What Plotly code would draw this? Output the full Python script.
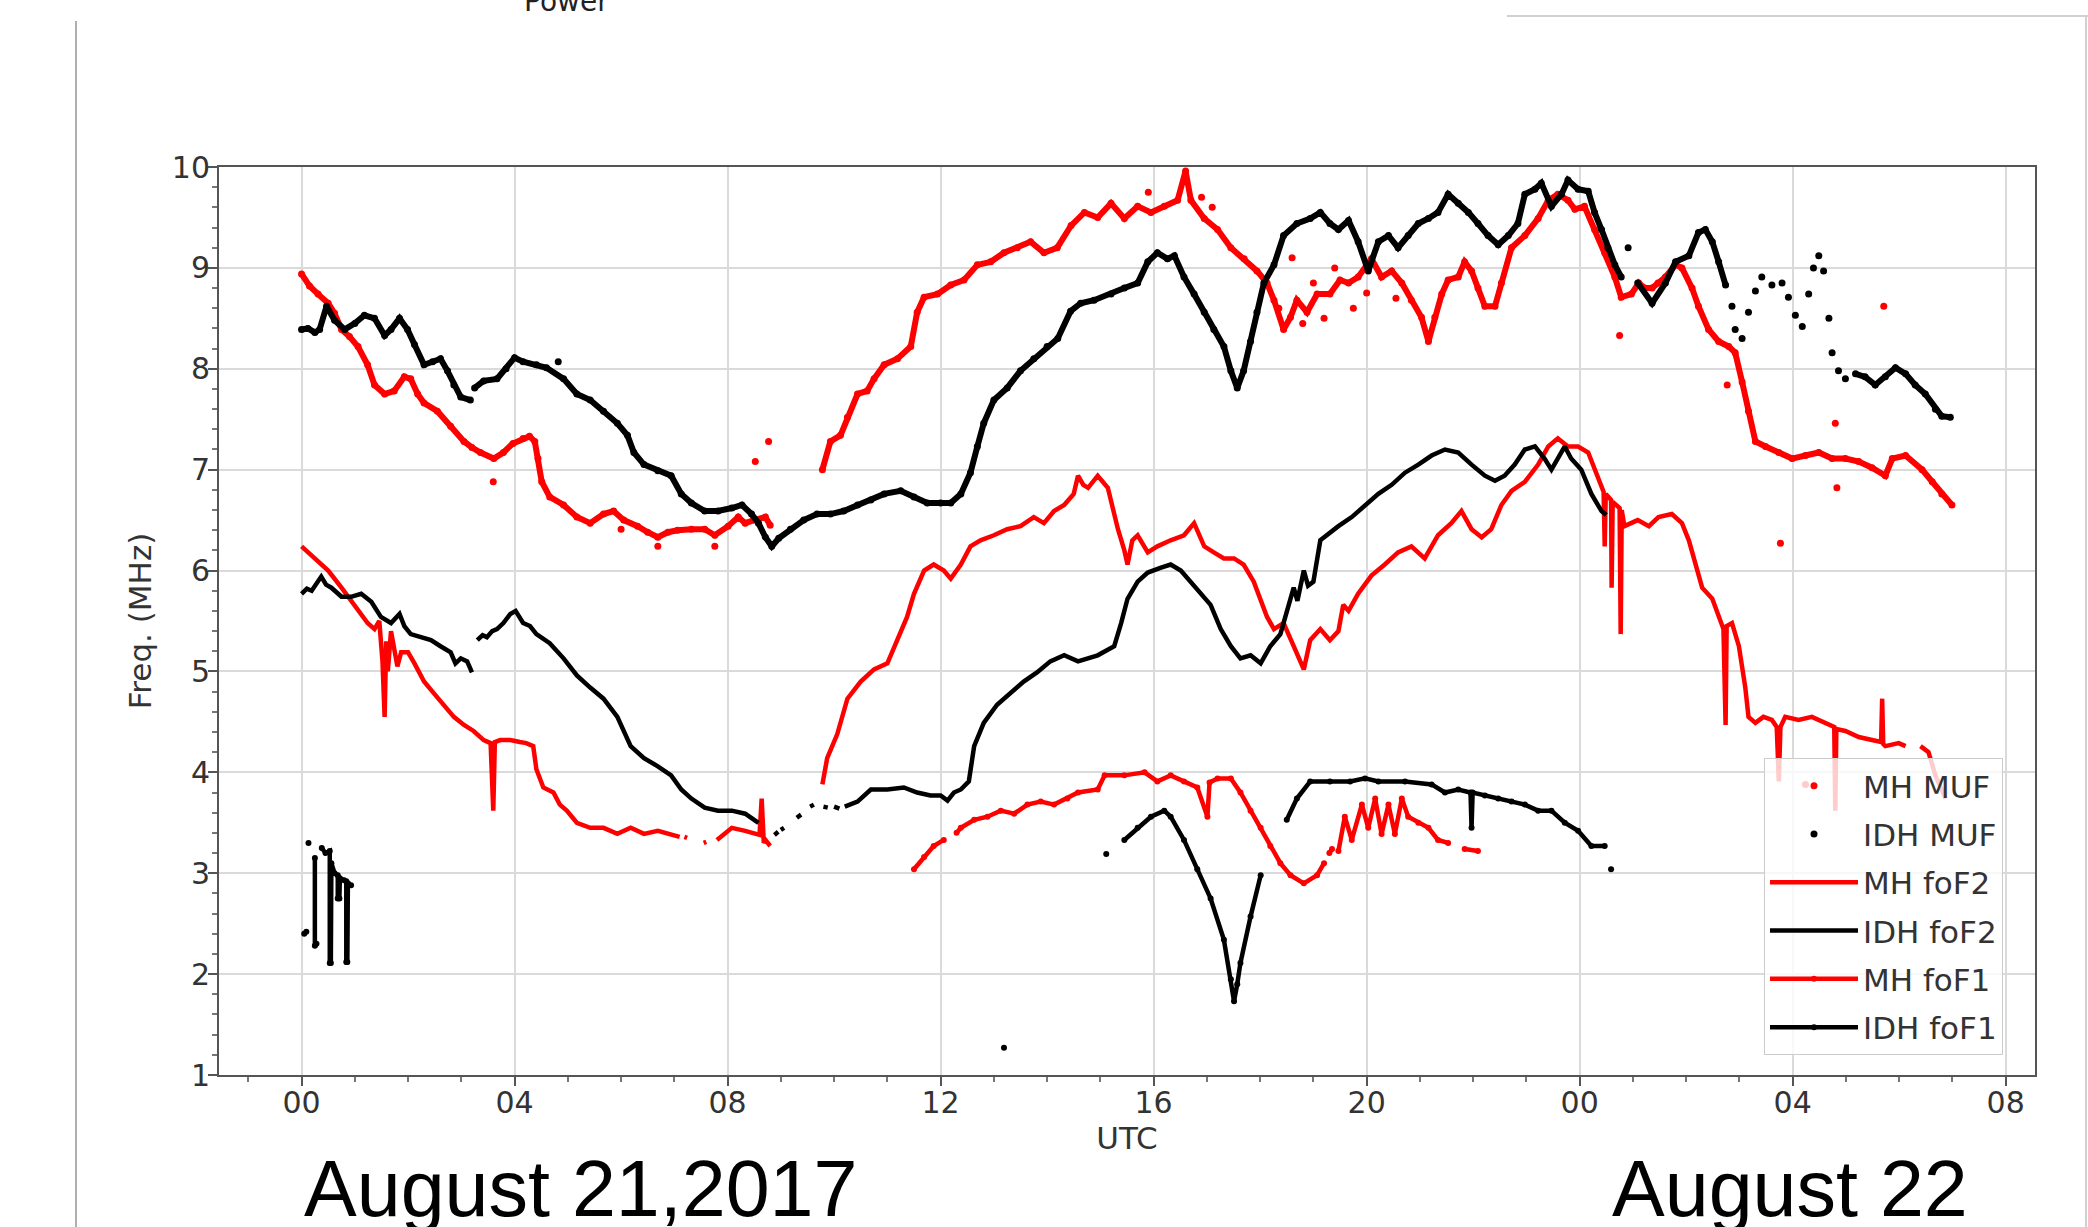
import plotly.graph_objects as go

# ---------------------------------------------------------------------------
# Ionosonde readings, 21-22 August 2017 (hours since 00 UTC on the 21st)
# None breaks a trace where the sounder has no data.
# ---------------------------------------------------------------------------

# MH MUF (dense run, drawn as a dotted band)
mh_muf_hours = [0.0, 0.15, 0.31, 0.5, 0.62, 0.75, 0.9, 1.06, 1.24, 1.37, 1.56, 1.74, 1.93, 2.05, 2.18, 2.3, 2.55,
                2.8, 3.05, 3.2, 3.36, 3.61, 3.79, 3.97, 4.16, 4.28, 4.38, 4.44, 4.51, 4.66, 4.92, 5.17, 5.42, 5.67,
                5.86, 6.05, 6.31, 6.5, 6.69, 6.88, 7.06, 7.32, 7.57, 7.76, 8.01, 8.2, 8.33, 8.5, 8.71, 8.8, None,
                9.78, 9.93, 10.12, 10.25, 10.44, 10.62, 10.75, 10.94, 11.19, 11.44, 11.56, 11.69, 11.94, 12.19,
                12.44, 12.69, 12.94, 13.19, 13.44, 13.69, 13.94, 14.19, 14.45, 14.7, 14.95, 15.2, 15.45, 15.7,
                15.95, 16.2, 16.45, 16.6, 16.7, 16.95, 17.2, 17.45, 17.7, 17.94, 18.13, 18.26, 18.44, 18.57,
                18.69, 18.88, 19.07, 19.31, 19.5, 19.66, 19.84, 20.09, 20.28, 20.47, 20.66, 20.84, 21.03, 21.16,
                21.28, 21.41, 21.53, 21.72, 21.84, 21.97, 22.09, 22.22, 22.41, 22.53, 22.72, 22.97, 23.22, 23.41,
                23.59, 23.78, 23.91, 24.09, 24.28, 24.47, 24.66, 24.78, 24.97, 25.11, 25.22, 25.36, 25.47, 25.61,
                25.8, 25.92, 26.11, 26.23, 26.42, 26.61, 26.8, 26.92, 27.05, 27.17, 27.3, 27.49, 27.74, 27.99,
                28.24, 28.49, 28.74, 28.99, 29.24, 29.49, 29.74, 29.87, 30.12, 30.43, 30.62, 30.8, 30.99]
mh_muf_mhz = [8.94, 8.82, 8.74, 8.65, 8.55, 8.39, 8.32, 8.22, 8.04, 7.84, 7.75, 7.78, 7.92, 7.9, 7.75, 7.66, 7.58,
              7.43, 7.28, 7.22, 7.17, 7.11, 7.17, 7.26, 7.31, 7.33, 7.28, 7.11, 6.88, 6.73, 6.65, 6.53, 6.47, 6.56,
              6.59, 6.5, 6.44, 6.38, 6.33, 6.38, 6.4, 6.41, 6.41, 6.35, 6.44, 6.53, 6.47, 6.5, 6.53, 6.45, None,
              7.0, 7.28, 7.34, 7.52, 7.75, 7.78, 7.9, 8.04, 8.1, 8.22, 8.56, 8.71, 8.74, 8.83,
              8.88, 9.03, 9.06, 9.15, 9.2, 9.26, 9.15, 9.2, 9.42, 9.55, 9.5, 9.64, 9.49, 9.61,
              9.55, 9.61, 9.67, 9.96, 9.67, 9.49, 9.38, 9.2, 9.09, 8.97, 8.85, 8.68, 8.39, 8.51,
              8.68, 8.56, 8.74, 8.74, 8.88, 8.85, 8.91, 9.09, 8.91, 8.97, 8.85, 8.68, 8.51, 8.27,
              8.51, 8.74, 8.88, 8.91, 9.06, 8.97, 8.8, 8.62, 8.62, 8.85, 9.2, 9.32, 9.49, 9.67,
              9.73, 9.67, 9.58, 9.61, 9.38, 9.15, 8.91, 8.71, 8.74, 8.85, 8.8, 8.8, 8.85, 8.91,
              9.03, 9.0, 8.8, 8.62, 8.39, 8.27, 8.22, 8.16, 7.87, 7.58, 7.28, 7.23, 7.17, 7.11,
              7.14, 7.17, 7.11, 7.11, 7.08, 7.02, 6.94, 7.11, 7.14, 7.0, 6.88, 6.76, 6.65]

# MH MUF (isolated soundings)
mh_muf_sparse_hours = [3.6, 6.0, 6.69, 7.76, 8.52, 8.77, 15.9, 16.9, 17.1, 18.35, 18.6, 18.8, 19.0, 19.2, 19.4,
                       19.75, 20.0, 20.55, 24.75, 26.77, 27.77, 28.24, 28.8, 28.83, 29.71]
mh_muf_sparse_mhz = [6.88, 6.41, 6.24, 6.24, 7.08, 7.28, 9.75, 9.7, 9.6, 8.6, 9.1, 8.45, 8.85, 8.5, 9.0,
                     8.6, 8.75, 8.7, 8.33, 7.84, 6.27, 3.88, 7.46, 6.82, 8.62]

# IDH MUF (dense run)
idh_muf_hours = [0.0, 0.12, 0.25, 0.34, 0.47, 0.62, 0.81, 1.0, 1.18, 1.37, 1.56, 1.68, 1.84, 1.99, 2.12, 2.3, 2.46,
                 2.61, 2.74, 2.86, 2.99, 3.17, None,
                 3.25, 3.42, 3.67, 3.84, 4.0, 4.16, 4.41, 4.6, 4.92, 5.17, 5.42, 5.67, 5.93, 6.12, 6.24, 6.43,
                 6.69, 6.94, 7.13, 7.32, 7.57, 7.82, 8.08, 8.27, 8.45, 8.58, 8.71, 8.83, 8.96, 9.18, 9.43, 9.68,
                 9.93, 10.18, 10.44, 10.69, 10.94, 11.25, 11.5, 11.75, 12.0, 12.19, 12.38, 12.56, 12.69, 12.81,
                 13.0, 13.25, 13.5, 13.75, 14.0, 14.2, 14.44, 14.63, 14.88, 15.2, 15.45, 15.7, 15.89, 16.07,
                 16.26, 16.39, 16.57, 16.76, 16.95, 17.13, 17.32, 17.45, 17.57, 17.69, 17.82, 17.94, 18.07,
                 18.26, 18.44, 18.69, 18.94, 19.13, 19.31, 19.47, 19.66, 19.84, 20.03, 20.22, 20.41, 20.59,
                 20.78, 20.97, 21.16, 21.34, 21.53, 21.72, 21.91, 22.09, 22.28, 22.47, 22.66, 22.84, 22.97,
                 23.16, 23.28, 23.47, 23.66, 23.78, 23.97, 24.16, 24.28, 24.41, 24.53, 24.66, 24.78, None,
                 25.09, 25.36, 25.61, 25.8, 26.05, 26.23, 26.36, 26.49, 26.61, 26.74, None,
                 29.18, 29.36, 29.55, 29.74, 29.93, 30.12, 30.3, 30.49, 30.68, 30.8, 30.96]
idh_muf_mhz = [8.39, 8.4, 8.36, 8.39, 8.62, 8.48, 8.39, 8.45, 8.53, 8.5, 8.33, 8.39, 8.5, 8.39, 8.24, 8.04, 8.07,
               8.1, 7.98, 7.84, 7.72, 7.69, None,
               7.81, 7.88, 7.9, 8.0, 8.11, 8.07, 8.04, 8.01, 7.9, 7.75, 7.69, 7.58, 7.46, 7.34, 7.17, 7.05,
               6.99, 6.94, 6.76, 6.67, 6.59, 6.59, 6.62, 6.65, 6.56, 6.47, 6.33, 6.24, 6.32, 6.41, 6.5, 6.56,
               6.56, 6.59, 6.65, 6.7, 6.76, 6.79, 6.73, 6.67, 6.67, 6.67, 6.76, 6.97, 7.23, 7.46,
               7.69, 7.81, 7.98, 8.1, 8.22, 8.3, 8.57, 8.65, 8.68, 8.74, 8.8, 8.85, 9.06, 9.15,
               9.09, 9.12, 8.91, 8.74, 8.56, 8.39, 8.22, 7.98, 7.81, 7.98, 8.27, 8.56, 8.85,
               9.03, 9.32, 9.44, 9.49, 9.55, 9.44, 9.38, 9.47, 9.26, 8.97, 9.26, 9.32, 9.2,
               9.32, 9.44, 9.49, 9.55, 9.73, 9.64, 9.55, 9.44, 9.32, 9.23, 9.32, 9.44, 9.73,
               9.78, 9.84, 9.61, 9.73, 9.87, 9.78, 9.76, 9.55, 9.38, 9.2, 9.03, 8.91, None,
               8.85, 8.65, 8.85, 9.06, 9.12, 9.35, 9.38, 9.26, 9.06, 8.83, None,
               7.95, 7.92, 7.84, 7.92, 8.01, 7.95, 7.84, 7.75, 7.6, 7.53, 7.52]

# IDH MUF (isolated soundings)
idh_muf_sparse_hours = [4.82, 24.91, 26.86, 26.92, 27.05, 27.17, 27.3, 27.42, 27.61, 27.8, 27.92, 28.05, 28.18,
                        28.3, 28.39, 28.49, 28.58, 28.68, 28.74, 28.86, 28.99]
idh_muf_sparse_mhz = [8.07, 9.2, 8.62, 8.39, 8.3, 8.56, 8.77, 8.91, 8.83, 8.85, 8.71, 8.53, 8.42,
                      8.74, 9.0, 9.12, 8.97, 8.5, 8.16, 7.98, 7.9]

# MH foF2
mh_fof2_hours = [0.0, 0.25, 0.5, 0.75, 1.0, 1.24, 1.37, 1.46, 1.52, 1.56, 1.59, 1.62, 1.68, 1.74, 1.8, 1.87, 2.0,
                 2.12, 2.3, 2.49, 2.67, 2.86, 3.05, 3.23, 3.42, 3.55, 3.6, 3.63, 3.73, 3.92, 4.1, 4.22, 4.35,
                 4.41, 4.54, 4.73, 4.85, 4.98, 5.17, 5.42, 5.67, 5.93, 6.18, 6.43, 6.69, 6.94, 7.1, None,
                 7.19, 7.24, None, 7.55, 7.6, None,
                 7.8, 8.08, 8.33, 8.5, 8.6, 8.64, 8.68, 8.71, 8.8, None,
                 9.78, 9.87, 10.06, 10.25, 10.5, 10.75, 11.0, 11.19, 11.37, 11.5, 11.69, 11.87, 12.06, 12.19,
                 12.38, 12.56, 12.75, 13.0, 13.25, 13.5, 13.75, 13.94, 14.13, 14.32, 14.5, 14.58, 14.68, 14.77,
                 14.95, 15.14, 15.33, 15.45, 15.51, 15.6, 15.7, 15.89, 16.07, 16.32, 16.57, 16.76, 16.95, 17.13,
                 17.32, 17.51, 17.69, 17.88, 18.01, 18.13, 18.26, 18.44, 18.63, 18.82, 18.94, 19.13, 19.31,
                 19.47, 19.56, 19.66, 19.84, 20.09, 20.34, 20.59, 20.84, 21.09, 21.34, 21.59, 21.78, 21.97,
                 22.16, 22.34, 22.53, 22.72, 22.97, 23.22, 23.41, 23.59, 23.78, 23.97, 24.16, 24.34, 24.45,
                 24.47, 24.49, 24.59, 24.6, 24.62, 24.75, 24.77, 24.79, 24.84, 25.09, 25.3, 25.48, 25.73,
                 25.92, 26.05, 26.17, 26.3, 26.49, 26.61, 26.7, 26.74, 26.76, 26.86, 26.99, 27.11, 27.17,
                 27.3, 27.45, 27.61, 27.7, 27.74, 27.77, 27.86, 28.11, 28.36, 28.61, 28.78, 28.8, 28.82,
                 28.99, 29.24, 29.49, 29.66, 29.68, 29.7, 29.74, 29.99, 30.12, None,
                 30.4, 30.55, 30.68, 30.87]
mh_fof2_mhz = [6.24, 6.12, 6.0, 5.83, 5.66, 5.48, 5.42, 5.5, 5.1, 4.55, 5.3, 5.0, 5.4, 5.25, 5.05, 5.19, 5.19,
               5.08, 4.9, 4.78, 4.67, 4.55, 4.47, 4.41, 4.32, 4.29, 3.62, 4.3, 4.32, 4.32, 4.3, 4.29, 4.26,
               4.03, 3.85, 3.8, 3.68, 3.62, 3.5, 3.45, 3.45, 3.39, 3.45, 3.39, 3.42, 3.39, 3.36, None,
               3.36, 3.35, None, 3.3, 3.31, None,
               3.33, 3.45, 3.42, 3.4, 3.38, 3.74, 3.3, 3.33, 3.27, None,
               3.88, 4.14, 4.38, 4.73, 4.9, 5.02, 5.08, 5.31, 5.54, 5.77, 6.0, 6.06, 6.0, 5.92,
               6.06, 6.24, 6.3, 6.35, 6.41, 6.44, 6.53, 6.47, 6.59, 6.65, 6.76, 6.94, 6.85, 6.82,
               6.94, 6.82, 6.41, 6.2, 6.06, 6.3, 6.35, 6.18, 6.24, 6.3, 6.35, 6.47, 6.24, 6.18,
               6.12, 6.12, 6.06, 5.89, 5.72, 5.54, 5.42, 5.48, 5.25, 5.02, 5.31, 5.42, 5.31,
               5.4, 5.66, 5.6, 5.77, 5.95, 6.06, 6.18, 6.24, 6.12, 6.35, 6.47, 6.59, 6.41,
               6.33, 6.41, 6.65, 6.79, 6.88, 7.05, 7.23, 7.31, 7.23, 7.23, 7.17, 6.94, 6.78,
               6.24, 6.76, 6.7, 5.83, 6.68, 6.62, 5.37, 6.6, 6.44, 6.5, 6.44, 6.53, 6.56,
               6.47, 6.3, 6.06, 5.83, 5.72, 5.54, 5.42, 4.47, 5.45, 5.48, 5.25, 4.84, 4.55,
               4.49, 4.55, 4.52, 4.45, 3.91, 4.45, 4.55, 4.52, 4.55, 4.49, 4.45, 3.62, 4.43,
               4.41, 4.35, 4.32, 4.3, 4.73, 4.28, 4.26, 4.29, 4.26, None,
               4.26, 4.2, 3.97, 3.74]

# IDH foF2
idh_fof2_hours = [0.0, 0.1, 0.19, 0.28, 0.37, 0.46, 0.56, 0.75, 0.93, 1.12, 1.31, 1.49, 1.68, 1.84, 1.93, 2.05,
                  2.24, 2.43, 2.61, 2.8, 2.89, 2.99, 3.11, 3.2, None,
                  3.3, 3.4, 3.48, 3.58, 3.67, 3.79, 3.92, 4.02, 4.16, 4.29, 4.41, 4.66, 4.92, 5.17, 5.42, 5.67,
                  5.93, 6.18, 6.43, 6.69, 6.94, 7.13, 7.32, 7.57, 7.82, 8.08, 8.33, 8.58, None,
                  8.88, 8.95, None, 9.0, 9.06, None, 9.3, 9.38, None, 9.55, 9.62, None, 9.8, 9.88, None,
                  10.0, 10.1, None,
                  10.2, 10.44, 10.69, 11.0, 11.31, 11.56, 11.81, 12.0, 12.13, 12.25, 12.38, 12.53, 12.63, 12.81,
                  13.06, 13.31, 13.56, 13.81, 14.06, 14.32, 14.58, 14.95, 15.26, 15.39, 15.51, 15.7, 15.89,
                  16.14, 16.32, 16.51, 16.7, 16.88, 17.07, 17.26, 17.45, 17.63, 17.82, 18.01, 18.19, 18.38,
                  18.5, 18.63, 18.7, 18.82, 18.9, 19.0, 19.13, 19.38, 19.47, 19.72, 19.97, 20.22, 20.47, 20.72,
                  20.97, 21.22, 21.47, 21.72, 21.97, 22.22, 22.41, 22.59, 22.78, 22.97, 23.16, 23.34, 23.47,
                  23.59, 23.72, 23.84, 24.03, 24.22, 24.41, 24.5]
idh_fof2_mhz = [5.77, 5.82, 5.8, 5.88, 5.94, 5.86, 5.83, 5.74, 5.74, 5.77, 5.69, 5.54, 5.48, 5.57, 5.45, 5.37,
                5.34, 5.31, 5.25, 5.19, 5.08, 5.13, 5.1, 4.99, None,
                5.31, 5.36, 5.34, 5.4, 5.42, 5.48, 5.57, 5.6, 5.48, 5.45, 5.37, 5.28, 5.13, 4.96, 4.84, 4.73,
                4.55, 4.26, 4.14, 4.06, 3.97, 3.83, 3.74, 3.65, 3.62, 3.62, 3.59, 3.5, None,
                3.38, 3.41, None, 3.43, 3.45, None, 3.55, 3.58, None, 3.66, 3.68, None, 3.66, 3.65, None,
                3.66, 3.64, None,
                3.66, 3.71, 3.83, 3.83, 3.85, 3.8, 3.77, 3.77, 3.72, 3.8, 3.83, 3.91, 4.26, 4.49,
                4.67, 4.78, 4.9, 4.99, 5.1, 5.16, 5.1, 5.16, 5.25, 5.48, 5.72, 5.89, 5.98,
                6.03, 6.06, 6.0, 5.89, 5.77, 5.66, 5.42, 5.25, 5.13, 5.16, 5.08, 5.25, 5.37,
                5.6, 5.83, 5.7, 6.0, 5.85, 5.89, 6.3, 6.41, 6.44, 6.53, 6.65, 6.76, 6.85, 6.97,
                7.05, 7.14, 7.2, 7.17, 7.05, 6.94, 6.89, 6.94, 7.05, 7.2, 7.23, 7.11, 7.0,
                7.11, 7.23, 7.11, 7.0, 6.76, 6.59, 6.55]

# MH foF1
mh_fof1_hours = [11.5, 11.69, 11.87, 12.06, None,
                 12.3, 12.38, 12.63, 12.88, 13.13, 13.38, 13.63, 13.88, 14.13, 14.38, 14.58, 14.95, 15.08, 15.45,
                 15.83, 16.07, 16.32, 16.57, 16.82, 17.01, 17.05, 17.2, 17.45, 17.63, 17.82, 18.01, 18.19,
                 18.38, 18.57, 18.82, 19.07, 19.2, None, 19.3, 19.35, None,
                 19.47, 19.59, 19.72, 19.91, 20.03, 20.16, 20.28, 20.41, 20.53, 20.66, 20.78, 20.97, 21.16,
                 21.34, 21.53, None, 21.84, 22.09]
mh_fof1_mhz = [3.04, 3.16, 3.27, 3.33, None,
               3.4, 3.45, 3.53, 3.56, 3.62, 3.59, 3.68, 3.71, 3.68, 3.74, 3.8, 3.83, 3.97, 3.97,
               4.0, 3.91, 3.97, 3.91, 3.85, 3.56, 3.9, 3.94, 3.94, 3.8, 3.62, 3.45, 3.27,
               3.1, 2.98, 2.9, 2.98, 3.1, None, 3.2, 3.24, None,
               3.22, 3.56, 3.33, 3.68, 3.45, 3.74, 3.39, 3.68, 3.39, 3.74, 3.56, 3.5, 3.45,
               3.33, 3.3, None, 3.24, 3.22]

# IDH foF1
idh_fof1_hours = [0.05, 0.09, None, 0.13, None, 0.25, 0.25, 0.28, None, 0.38, 0.45, 0.53, 0.53, 0.55, 0.56,
                  0.62, 0.68, 0.68, 0.71, 0.72, 0.8, 0.84, 0.84, 0.86, 0.87, 0.93, None,
                  13.19, None, 15.11, None,
                  15.45, 15.7, 15.95, 16.2, 16.32, 16.57, 16.82, 17.07, 17.32, 17.45, 17.51, 17.57, 17.63, 17.82,
                  18.01, None,
                  18.5, 18.69, 18.94, 19.31, 19.69, 19.97, 20.22, 20.72, 21.22, 21.47, 21.72, 21.95, 21.97,
                  21.99, 22.22, 22.47, 22.72, 22.97, 23.22, 23.47, 23.72, 23.97, 24.22, 24.47, None, 24.59]
idh_fof1_mhz = [2.4, 2.42, None, 3.3, None, 3.15, 2.28, 2.3, None, 3.25, 3.2, 3.22, 2.11, 2.11, 3.1,
                3.0, 2.98, 2.75, 2.75, 2.95, 2.93, 2.92, 2.12, 2.12, 2.9, 2.88, None,
                1.27, None, 3.19, None,
                3.33, 3.45, 3.56, 3.62, 3.56, 3.33, 3.04, 2.75, 2.34, 1.95, 1.73, 1.9, 2.11, 2.57,
                2.98, None,
                3.53, 3.74, 3.91, 3.91, 3.91, 3.94, 3.91, 3.91, 3.88, 3.8, 3.83, 3.8, 3.45,
                3.8, 3.77, 3.74, 3.71, 3.68, 3.62, 3.62, 3.5, 3.42, 3.27, 3.27, None, 3.04]

# Axis ticks: hours since 00 UTC on the 21st, labelled as clock hours
hour_ticks = [0, 4, 8, 12, 16, 20, 24, 28, 32]
hour_labels = ["00", "04", "08", "12", "16", "20", "00", "04", "08"]
freq_ticks = [1, 2, 3, 4, 5, 6, 7, 8, 9, 10]

RED = "#ff0000"
BLACK = "#000000"
FONT = "DejaVu Sans"

# Plot area in page pixels
W, H = 2088, 1227
L, R, T, B = 219, 2035, 167, 1075


def px(x):
    return (x - L) / (R - L)


def py(y):
    return (B - y) / (B - T)


fig = go.Figure()

# MUF: dotted bands (points joined by a thick line plus dots) and stray soundings
for name, col, hx, vy, sx, sy in [
    ("MH MUF", RED, mh_muf_hours, mh_muf_mhz, mh_muf_sparse_hours, mh_muf_sparse_mhz),
    ("IDH MUF", BLACK, idh_muf_hours, idh_muf_mhz, idh_muf_sparse_hours, idh_muf_sparse_mhz),
]:
    fig.add_trace(go.Scatter(
        x=hx, y=vy, mode="lines", line=dict(color=col, width=6),
        legendgroup=name, showlegend=False, hoverinfo="skip", connectgaps=False))
    fig.add_trace(go.Scatter(
        x=[h for h in hx if h is not None] + sx,
        y=[v for v in vy if v is not None] + sy,
        mode="markers", name=name, legendgroup=name,
        marker=dict(color=col, size=7, line=dict(width=0))))

for name, col, hx, vy in [
    ("MH foF2", RED, mh_fof2_hours, mh_fof2_mhz),
    ("IDH foF2", BLACK, idh_fof2_hours, idh_fof2_mhz),
]:
    fig.add_trace(go.Scatter(
        x=hx, y=vy, mode="lines", name=name, legendgroup=name,
        line=dict(color=col, width=4.5), connectgaps=False))

for name, col, hx, vy in [
    ("MH foF1", RED, mh_fof1_hours, mh_fof1_mhz),
    ("IDH foF1", BLACK, idh_fof1_hours, idh_fof1_mhz),
]:
    fig.add_trace(go.Scatter(
        x=hx, y=vy, mode="lines+markers", name=name, legendgroup=name,
        line=dict(color=col, width=4.5), marker=dict(color=col, size=6),
        connectgaps=False))

axis_common = dict(
    showline=True, linecolor="#555555", linewidth=2, mirror=True,
    showgrid=True, gridcolor="#dadada", gridwidth=2,
    ticks="outside", ticklen=9, tickwidth=2, tickcolor="#555555",
    tickfont=dict(family=FONT, size=30, color="#333333"),
    zeroline=False,
)

fig.update_xaxes(
    range=[-1.55, 32.55], tickmode="array", tickvals=hour_ticks, ticktext=hour_labels,
    ticklabelstandoff=-9,
    minor=dict(tickmode="linear", tick0=0, dtick=1, ticks="outside", ticklen=5,
               tickwidth=1.5, tickcolor="#777777", showgrid=False),
    title=dict(text="UTC", font=dict(family=FONT, size=31, color="#333333"), standoff=4),
    **axis_common)
fig.update_yaxes(
    range=[1, 10], tickmode="array", tickvals=freq_ticks,
    ticklabelstandoff=-8,
    minor=dict(tickmode="linear", tick0=0, dtick=0.2, ticks="outside", ticklen=5,
               tickwidth=1.5, tickcolor="#777777", showgrid=False),
    title=dict(text="Freq. (MHz)", font=dict(family=FONT, size=31, color="#333333"), standoff=11),
    **axis_common)

# Slide frame around the figure
frame = dict(color="#b0b0b0", width=2)
fig.add_shape(type="line", xref="paper", yref="paper",
              x0=px(76), x1=px(76), y0=py(21), y1=py(H), line=frame)
fig.add_shape(type="line", xref="paper", yref="paper",
              x0=px(1507), x1=px(W), y0=py(16), y1=py(16), line=dict(color="#d0d0d0", width=2))
fig.add_shape(type="line", xref="paper", yref="paper",
              x0=px(2086), x1=px(2086), y0=py(16), y1=py(H), line=dict(color="#d0d0d0", width=2))

fig.add_annotation(text="Power", xref="paper", yref="paper", x=px(566), y=py(2),
                   xanchor="center", yanchor="middle", showarrow=False,
                   font=dict(family=FONT, size=28, color="#222222"))
fig.add_annotation(text="August 21,2017", xref="paper", yref="paper", x=px(302), y=py(1188),
                   xanchor="left", yanchor="middle", showarrow=False,
                   font=dict(family="Liberation Sans", size=79, color="#000000"))
fig.add_annotation(text="August 22", xref="paper", yref="paper", x=px(1610), y=py(1188),
                   xanchor="left", yanchor="middle", showarrow=False,
                   font=dict(family="Liberation Sans", size=79, color="#000000"))

fig.update_layout(
    width=W, height=H,
    margin=dict(l=L, r=W - R, t=T, b=H - B, autoexpand=False),
    paper_bgcolor="white", plot_bgcolor="white",
    showlegend=True,
    legend=dict(
        x=px(1764), y=py(758), xanchor="left", yanchor="top",
        bgcolor="rgba(255,255,255,0.8)", bordercolor="#cccccc", borderwidth=1,
        font=dict(family=FONT, size=31, color="#333333"),
        itemwidth=88, tracegroupgap=5, traceorder="grouped",
    ),
)

fig.write_html("out.html")
